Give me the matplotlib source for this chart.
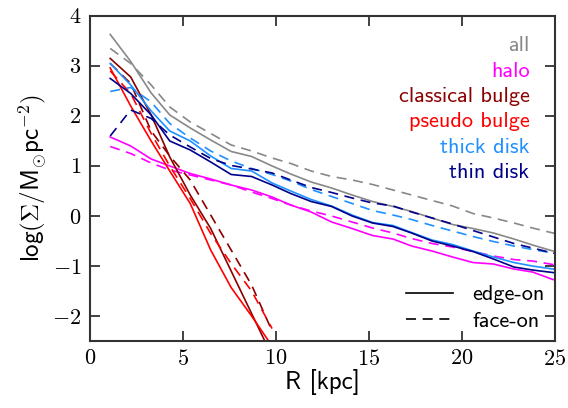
import numpy as np
import matplotlib
matplotlib.use('Agg')
import matplotlib.pyplot as plt
from matplotlib.lines import Line2D
from matplotlib.ticker import FuncFormatter, MultipleLocator

plt.rcParams['mathtext.fontset'] = 'cm'
plt.rcParams['font.family'] = ['cmss10', 'DejaVu Sans']
plt.rcParams['axes.unicode_minus'] = False

# radial bins (kpc)
R = [1.1, 2.2, 3.3, 4.3, 5.4, 6.5, 7.6, 8.7, 9.8, 10.8, 11.9, 13.0,
     14.1, 15.2, 16.3, 17.3, 18.4, 19.5, 20.6, 21.7, 22.8, 23.8, 24.9, 26.0]

# log surface density, edge-on (solid) and face-on (dashed)
all_edge = [3.63, 3.09, 2.46, 2.02, 1.76, 1.52, 1.29, 1.19, 1.0, 0.84, 0.68, 0.56,
            0.42, 0.29, 0.19, 0.09, -0.04, -0.17, -0.25, -0.34, -0.46, -0.58, -0.70, -0.80]
all_face = [3.35, 3.05, 2.62, 2.18, 1.88, 1.65, 1.42, 1.30, 1.16, 1.05, 0.90, 0.79,
            0.72, 0.63, 0.52, 0.42, 0.31, 0.20, 0.05, -0.04, -0.14, -0.24, -0.34, -0.44]
halo_edge = [1.58, 1.40, 1.14, 1.0, 0.85, 0.74, 0.62, 0.52, 0.38, 0.22, 0.08, -0.12,
             -0.25, -0.39, -0.46, -0.60, -0.70, -0.82, -0.93, -0.96, -1.06, -1.12, -1.27, -1.35]
halo_face = [1.39, 1.25, 1.06, 0.92, 0.82, 0.72, 0.62, 0.48, 0.35, 0.22, 0.10, 0.0,
             -0.12, -0.24, -0.34, -0.45, -0.55, -0.62, -0.71, -0.80, -0.87, -0.90, -0.97, -1.02]
cbulge_edge = [3.15, 2.78, 2.02, 1.18, 0.42, -0.25, -1.10, -1.95, -2.80, -3.60]
cbulge_face = [3.05, 2.65, 1.70, 1.20, 0.72, 0.02, -0.68, -1.38, -2.30]
pbulge_edge = [2.96, 2.20, 1.50, 0.90, 0.25, -0.68, -1.43, -2.00, -2.60, -3.20]
pbulge_face = [2.90, 2.45, 1.65, 1.00, 0.35, -0.35, -0.95, -1.50, -2.25]
thick_edge = [3.05, 2.62, 2.10, 1.70, 1.50, 1.20, 0.95, 0.90, 0.66, 0.50, 0.33, 0.20,
              0.02, -0.13, -0.19, -0.33, -0.48, -0.57, -0.70, -0.82, -0.93, -1.00, -1.06, -1.12]
thick_face = [2.49, 2.57, 2.28, 1.85, 1.56, 1.30, 1.10, 0.95, 0.83, 0.70, 0.53, 0.39,
              0.25, 0.11, 0.02, -0.07, -0.19, -0.30, -0.41, -0.51, -0.60, -0.67, -0.74, -0.82]
thin_edge = [2.75, 2.45, 2.02, 1.50, 1.32, 1.08, 0.83, 0.79, 0.62, 0.45, 0.29, 0.19,
             0.0, -0.14, -0.21, -0.34, -0.50, -0.60, -0.71, -0.86, -1.02, -1.08, -1.13, -1.18]
thin_face = [1.60, 2.12, 1.95, 1.62, 1.38, 1.15, 1.01, 0.94, 0.86, 0.72, 0.57, 0.47,
             0.36, 0.26, 0.20, 0.08, -0.04, -0.16, -0.29, -0.42, -0.55, -0.64, -0.74, -0.84]

names = ['all', 'halo', 'classical bulge', 'pseudo bulge', 'thick disk', 'thin disk']
colors = ['#888888', '#ff00ff', '#8b0000', '#ff0000', '#1e90ff', '#00008b']
edge_on = [all_edge, halo_edge, cbulge_edge, pbulge_edge, thick_edge, thin_edge]
face_on = [all_face, halo_face, cbulge_face, pbulge_face, thick_face, thin_face]

fig = plt.figure(figsize=(5.68, 4.08), dpi=100)
ax = fig.add_axes([0.158, 0.164, 0.819, 0.797])

lw = 1.2
for name, c, ye, yf in zip(names, colors, edge_on, face_on):
    ax.plot(R[:len(ye)], ye, color=c, lw=lw)
    ax.plot(R[:len(yf)], yf, color=c, lw=lw, dashes=(6, 4))

ax.set_xlim(0, 25)
ax.set_ylim(-2.5, 4)
ax.xaxis.set_major_locator(MultipleLocator(5))
ax.yaxis.set_major_locator(MultipleLocator(1))
fmt = FuncFormatter(lambda v, p: r'$%d$' % round(v))
ax.xaxis.set_major_formatter(fmt)
ax.yaxis.set_major_formatter(fmt)
ax.tick_params(direction='in', length=7, width=1.3, color='#333333',
               labelsize=16, top=True, right=True, pad=6)
for s in ax.spines.values():
    s.set_linewidth(1.5)
    s.set_color('#333333')

ax.set_xlabel('R [kpc]', fontsize=18, labelpad=0)
ax.set_ylabel(r'$\mathsf{log(\Sigma/M_{\odot}pc^{-2})}$', fontsize=18, labelpad=2)

# coloured text legend
handles = [Line2D([], [], color=c, lw=0) for c in colors]
leg1 = ax.legend(handles, names, loc='upper right', frameon=False, fontsize=16,
                 handlelength=0, handletextpad=0, markerfirst=False,
                 labelcolor=colors, labelspacing=0.26, alignment='right',
                 borderaxespad=0.75, bbox_to_anchor=(1.0, 1.018))
ax.add_artist(leg1)

style_handles = [Line2D([], [], color='k', lw=lw),
                 Line2D([], [], color='k', lw=lw, dashes=(6, 4))]
ax.legend(style_handles, ['edge-on', 'face-on'], loc='lower right', frameon=False,
          fontsize=16, handlelength=2.1, handletextpad=0.9, labelspacing=0.32,
          borderaxespad=0.05)

fig.savefig('out.png', dpi=100)
